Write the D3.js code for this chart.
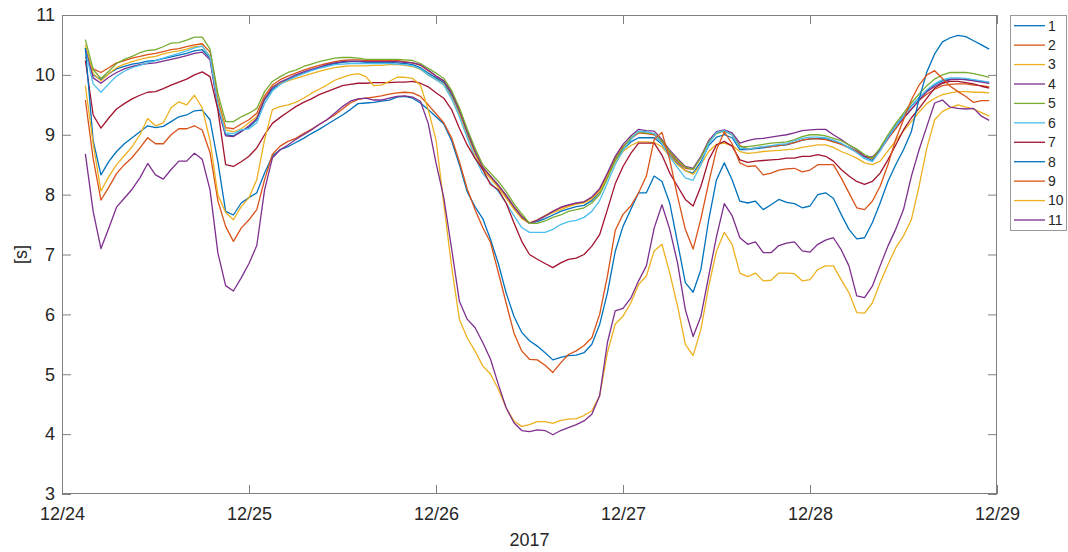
<!DOCTYPE html>
<html>
<head>
<meta charset="utf-8">
<script src="https://cdn.jsdelivr.net/npm/d3@7"></script>
<style>
html,body{margin:0;padding:0;background:#fff;}
svg{display:block;}
text{font-family:"Liberation Sans",Arial,Helvetica,sans-serif;fill:#262626;}
</style>
</head>
<body>
<svg id="chart" width="1068" height="552"></svg>
<script>
// ---- data (hourly samples starting 2017-12-24 03:00) ----
const startHour = 3;            // first sample hour on 12/24
const seriesNames = ["1","2","3","4","5","6","7","8","9","10","11"];
const seriesColors = ["#0072BD","#D95319","#EDB120","#7E2F8E","#77AC30","#4DBEEE","#A2142F","#0072BD","#D95319","#EDB120","#7E2F8E"];
const xTickLabels = ["12/24","12/25","12/26","12/27","12/28","12/29"];
const yTicks = [3,4,5,6,7,8,9,10,11];

const s1 = [10.45,10.00,9.92,10.02,10.10,10.14,10.18,10.20,10.23,10.24,
10.27,10.30,10.33,10.36,10.40,10.42,10.28,9.50,9.00,8.98,
9.06,9.13,9.25,9.58,9.76,9.86,9.92,9.98,10.03,10.08,
10.12,10.16,10.19,10.21,10.22,10.22,10.21,10.21,10.21,10.21,
10.20,10.19,10.17,10.12,10.03,9.95,9.87,9.66,9.38,9.02,
8.70,8.43,8.28,8.13,7.96,7.78,7.62,7.52,7.55,7.60,
7.66,7.72,7.76,7.80,7.82,7.90,8.04,8.30,8.56,8.75,
8.88,8.95,8.95,8.95,8.84,8.66,8.52,8.40,8.36,8.55,
8.82,8.96,9.00,8.95,8.75,8.75,8.77,8.78,8.80,8.82,
8.83,8.87,8.91,8.93,8.94,8.93,8.89,8.85,8.79,8.72,
8.63,8.57,8.75,8.96,9.15,9.32,9.48,9.62,9.74,9.84,
9.90,9.93,9.93,9.92,9.91,9.89,9.87];

const s2 = [10.30,10.10,10.04,10.12,10.20,10.24,10.28,10.31,10.34,10.36,
10.39,10.42,10.44,10.47,10.50,10.52,10.38,9.60,9.12,9.10,
9.18,9.25,9.36,9.65,9.83,9.92,9.98,10.03,10.08,10.12,
10.16,10.19,10.22,10.24,10.25,10.25,10.24,10.24,10.24,10.24,
10.24,10.22,10.20,10.16,10.07,9.98,9.90,9.70,9.40,9.05,
8.72,8.45,8.30,8.15,7.98,7.80,7.64,7.53,7.58,7.65,
7.72,7.78,7.82,7.85,7.88,7.95,8.08,8.33,8.60,8.80,
8.93,9.03,9.02,9.00,8.88,8.70,8.55,8.44,8.42,8.62,
8.90,9.04,9.07,9.00,8.82,8.76,8.78,8.80,8.80,8.82,
8.84,8.87,8.91,8.93,8.93,8.92,8.88,8.84,8.78,8.72,
8.64,8.60,8.74,8.93,9.10,9.27,9.43,9.57,9.68,9.76,
9.82,9.84,9.85,9.85,9.83,9.82,9.80];

const s3 = [10.50,10.02,9.90,10.02,10.12,10.18,10.22,10.26,10.29,10.31,
10.35,10.38,10.40,10.43,10.47,10.48,10.30,9.55,9.08,9.05,
9.10,9.20,9.30,9.60,9.80,9.86,9.90,9.94,9.98,10.02,
10.06,10.09,10.12,10.14,10.15,10.15,10.15,10.16,10.16,10.17,
10.17,10.16,10.14,10.09,10.00,9.92,9.84,9.62,9.33,8.98,
8.67,8.42,8.27,8.12,7.94,7.76,7.60,7.52,7.57,7.64,
7.70,7.75,7.80,7.84,7.86,7.93,8.05,8.30,8.55,8.72,
8.82,8.88,8.88,8.87,8.80,8.64,8.50,8.40,8.34,8.50,
8.72,8.84,8.86,8.82,8.72,8.69,8.70,8.72,8.73,8.74,
8.75,8.76,8.79,8.81,8.83,8.83,8.79,8.72,8.67,8.61,
8.53,8.50,8.56,8.73,8.90,9.06,9.22,9.38,9.52,9.61,
9.67,9.70,9.72,9.72,9.71,9.71,9.70];

const s4 = [10.42,9.95,9.86,9.96,10.04,10.10,10.14,10.17,10.19,10.20,
10.23,10.26,10.29,10.32,10.36,10.38,10.25,9.45,8.98,8.97,
9.05,9.15,9.27,9.60,9.79,9.88,9.94,10.00,10.05,10.09,
10.13,10.17,10.20,10.22,10.23,10.23,10.22,10.22,10.22,10.22,
10.22,10.21,10.20,10.17,10.08,9.98,9.90,9.70,9.42,9.06,
8.73,8.46,8.31,8.16,7.99,7.80,7.63,7.52,7.57,7.64,
7.72,7.79,7.83,7.86,7.88,7.96,8.10,8.36,8.64,8.84,
8.98,9.09,9.07,9.06,8.92,8.74,8.60,8.47,8.44,8.64,
8.90,9.05,9.08,9.03,8.86,8.90,8.93,8.94,8.96,8.98,
9.00,9.03,9.07,9.08,9.09,9.09,9.00,8.92,8.83,8.75,
8.64,8.63,8.75,8.94,9.14,9.28,9.42,9.58,9.72,9.81,
9.87,9.92,9.93,9.92,9.90,9.88,9.86];

const s5 = [10.59,10.09,9.94,10.06,10.19,10.26,10.31,10.37,10.41,10.42,
10.47,10.53,10.54,10.58,10.63,10.63,10.43,9.69,9.22,9.22,
9.30,9.36,9.44,9.72,9.89,9.97,10.04,10.08,10.14,10.18,
10.22,10.25,10.28,10.29,10.29,10.28,10.26,10.26,10.26,10.26,
10.26,10.25,10.24,10.19,10.11,10.03,9.94,9.74,9.45,9.10,
8.78,8.50,8.36,8.22,8.05,7.85,7.68,7.52,7.52,7.56,
7.62,7.66,7.72,7.75,7.78,7.86,8.00,8.27,8.58,8.78,
8.95,9.05,9.03,9.02,8.90,8.72,8.58,8.46,8.42,8.62,
8.88,9.02,9.06,9.00,8.80,8.80,8.82,8.84,8.86,8.87,
8.88,8.92,8.97,9.00,9.00,8.98,8.94,8.90,8.83,8.76,
8.67,8.61,8.78,9.00,9.19,9.36,9.53,9.68,9.82,9.93,
10.00,10.04,10.04,10.04,10.02,9.99,9.96];

const s6 = [10.40,9.85,9.71,9.85,9.98,10.06,10.12,10.16,10.20,10.24,
10.28,10.32,10.36,10.40,10.45,10.48,10.30,9.50,9.03,9.02,
9.08,9.10,9.20,9.52,9.73,9.84,9.91,9.97,10.02,10.07,
10.11,10.14,10.17,10.18,10.19,10.19,10.19,10.19,10.19,10.19,
10.18,10.17,10.15,10.10,10.00,9.92,9.83,9.60,9.30,8.95,
8.62,8.35,8.20,8.05,7.86,7.65,7.45,7.37,7.37,7.37,
7.42,7.50,7.55,7.57,7.62,7.72,7.90,8.20,8.50,8.74,
8.92,9.06,9.05,9.02,8.85,8.63,8.45,8.28,8.24,8.50,
8.85,9.04,9.07,9.00,8.78,8.76,8.78,8.80,8.82,8.84,
8.85,8.90,8.94,8.96,8.96,8.95,8.91,8.86,8.78,8.70,
8.60,8.55,8.73,8.95,9.14,9.31,9.47,9.62,9.75,9.85,
9.92,9.95,9.95,9.94,9.92,9.90,9.88];

const s7 = [10.24,9.33,9.11,9.28,9.43,9.52,9.60,9.66,9.71,9.72,
9.77,9.83,9.88,9.93,10.00,10.05,9.97,9.42,8.50,8.47,
8.55,8.64,8.78,9.00,9.19,9.29,9.38,9.47,9.54,9.60,
9.67,9.72,9.77,9.82,9.84,9.86,9.86,9.87,9.87,9.87,
9.88,9.88,9.89,9.86,9.80,9.70,9.61,9.42,9.11,8.83,
8.61,8.42,8.17,8.08,7.86,7.53,7.22,7.00,6.92,6.85,
6.78,6.86,6.92,6.94,7.00,7.14,7.33,7.75,8.18,8.47,
8.69,8.86,8.86,8.86,8.66,8.36,8.14,7.92,7.81,8.14,
8.58,8.83,8.89,8.81,8.58,8.54,8.56,8.57,8.58,8.59,
8.61,8.61,8.64,8.64,8.67,8.64,8.56,8.42,8.31,8.22,
8.17,8.22,8.36,8.58,8.83,9.08,9.28,9.44,9.61,9.78,
9.86,9.89,9.89,9.87,9.85,9.81,9.78];

const s8 = [10.45,8.90,8.33,8.55,8.72,8.85,8.95,9.05,9.15,9.12,
9.14,9.22,9.30,9.33,9.40,9.41,9.25,8.55,7.72,7.66,
7.86,7.95,8.03,8.36,8.64,8.75,8.80,8.87,8.94,9.02,
9.09,9.17,9.25,9.33,9.42,9.52,9.53,9.54,9.56,9.58,
9.63,9.64,9.61,9.53,9.42,9.30,9.18,8.90,8.50,8.05,
7.80,7.60,7.25,6.85,6.36,5.97,5.70,5.56,5.47,5.36,
5.24,5.28,5.31,5.32,5.36,5.50,5.83,6.36,7.05,7.47,
7.75,8.03,8.03,8.31,8.22,7.86,7.20,6.53,6.37,6.75,
7.58,8.25,8.53,8.25,7.89,7.86,7.89,7.75,7.83,7.92,
7.87,7.85,7.78,7.81,8.00,8.03,7.94,7.67,7.42,7.26,
7.28,7.53,7.86,8.22,8.50,8.75,9.05,9.60,10.05,10.35,
10.55,10.62,10.66,10.64,10.57,10.50,10.43];

const s9 = [9.58,8.60,7.91,8.12,8.35,8.50,8.62,8.78,8.95,8.85,
8.85,9.00,9.10,9.10,9.15,9.08,8.70,7.90,7.47,7.22,
7.44,7.58,7.75,8.25,8.67,8.81,8.89,8.94,9.02,9.09,
9.17,9.25,9.33,9.43,9.53,9.59,9.61,9.63,9.65,9.68,
9.70,9.71,9.70,9.64,9.50,9.35,9.20,8.95,8.55,8.10,
7.75,7.45,7.20,6.70,6.19,5.69,5.39,5.25,5.24,5.15,
5.03,5.19,5.33,5.39,5.48,5.61,6.00,6.64,7.40,7.67,
7.81,8.03,8.31,8.92,9.04,8.58,7.97,7.42,7.09,7.60,
8.20,8.75,9.05,8.85,8.53,8.47,8.48,8.33,8.36,8.41,
8.43,8.44,8.38,8.41,8.50,8.50,8.50,8.28,8.03,7.78,
7.75,7.89,8.14,8.50,8.92,9.25,9.58,9.83,10.00,10.07,
9.94,9.81,9.72,9.64,9.54,9.57,9.57];

const s10 = [9.82,8.85,8.06,8.30,8.50,8.65,8.80,9.00,9.27,9.15,
9.20,9.45,9.55,9.50,9.66,9.45,8.90,8.00,7.70,7.58,
7.80,7.95,8.25,8.92,9.42,9.47,9.50,9.54,9.61,9.69,
9.76,9.83,9.91,9.96,10.00,10.02,9.97,9.82,9.83,9.89,
9.96,9.96,9.94,9.83,9.42,8.92,7.85,6.80,5.92,5.61,
5.39,5.14,5.00,4.75,4.44,4.22,4.13,4.16,4.21,4.21,
4.18,4.23,4.25,4.26,4.31,4.39,4.64,5.36,5.84,5.97,
6.19,6.50,6.64,7.06,7.17,6.69,6.14,5.50,5.31,5.75,
6.47,7.06,7.37,7.17,6.69,6.63,6.69,6.56,6.57,6.69,
6.69,6.68,6.56,6.58,6.75,6.81,6.81,6.58,6.36,6.03,
6.02,6.19,6.53,6.83,7.11,7.31,7.58,8.14,8.78,9.25,
9.39,9.45,9.50,9.46,9.43,9.37,9.31];

const s11 = [8.68,7.72,7.10,7.44,7.79,7.94,8.09,8.28,8.52,8.33,
8.26,8.42,8.56,8.56,8.69,8.59,8.08,7.03,6.48,6.39,
6.61,6.85,7.15,8.08,8.61,8.75,8.83,8.92,9.00,9.08,
9.17,9.25,9.36,9.47,9.56,9.60,9.61,9.58,9.58,9.61,
9.64,9.65,9.63,9.56,9.19,8.53,7.95,7.10,6.22,5.92,
5.78,5.53,5.25,4.83,4.44,4.19,4.06,4.04,4.07,4.06,
3.99,4.06,4.11,4.16,4.22,4.33,4.64,5.53,6.06,6.10,
6.27,6.56,6.81,7.44,7.83,7.42,6.86,6.08,5.63,5.97,
6.64,7.30,7.85,7.65,7.28,7.17,7.21,7.03,7.03,7.15,
7.19,7.21,7.06,7.04,7.17,7.24,7.28,7.08,6.81,6.31,
6.28,6.47,6.81,7.14,7.42,7.75,8.30,8.75,9.14,9.53,
9.58,9.46,9.44,9.43,9.44,9.31,9.24];

const seriesValues = [s1,s2,s3,s4,s5,s6,s7,s8,s9,s10,s11];

// ---- layout ----
const svg = d3.select("#chart");
const L = 62, R = 997, T = 15, B = 494;
const axisColor = "#808080";
const t0 = new Date(2017, 11, 24, 0, 0);
const t1 = new Date(2017, 11, 29, 0, 0);
const x = d3.scaleTime().domain([t0, t1]).range([L, R]);
const y = d3.scaleLinear().domain([3, 11]).range([B, T]);
const tickDates = xTickLabels.map((d, i) => new Date(2017, 11, 24 + i));
const timeOf = i => new Date(2017, 11, 24, startHour + i, 0);

// lines
const line = d3.line().x((d, i) => x(timeOf(i))).y(d => y(d));
const g = svg.append("g");
seriesValues.forEach((vals, k) => {
  g.append("path").datum(vals)
    .attr("d", line)
    .attr("fill", "none")
    .attr("stroke", seriesColors[k])
    .attr("stroke-width", 1.3)
    .attr("stroke-linejoin", "round");
});

// axes
function styleAxis(sel){
  sel.select(".domain").remove();
  sel.selectAll(".tick line").attr("stroke", axisColor);
  sel.selectAll(".tick text").attr("fill", "#262626").style("font-size", "18px")
     .style("font-family", '"Liberation Sans",Arial,sans-serif');
}
const fmt = d => xTickLabels[tickDates.findIndex(t => +t === +d)];
svg.append("g").attr("transform", `translate(0,${B})`)
  .call(d3.axisBottom(x).tickValues(tickDates).tickFormat(fmt).tickSizeInner(-9).tickSizeOuter(0).tickPadding(13))
  .call(styleAxis);
svg.append("g").attr("transform", `translate(0,${T})`)
  .call(d3.axisTop(x).tickValues(tickDates).tickFormat("").tickSizeInner(-9).tickSizeOuter(0))
  .call(styleAxis);
svg.append("g").attr("transform", `translate(${L},0)`)
  .call(d3.axisLeft(y).tickValues(yTicks).tickFormat(d3.format("d")).tickSizeInner(-9).tickSizeOuter(0).tickPadding(7))
  .call(styleAxis);
svg.append("g").attr("transform", `translate(${R},0)`)
  .call(d3.axisRight(y).tickValues(yTicks).tickFormat("").tickSizeInner(-9).tickSizeOuter(0))
  .call(styleAxis);

// frame
svg.append("rect").attr("x", L + 0.5).attr("y", T + 0.5)
  .attr("width", R - L - 1).attr("height", B - T - 1)
  .attr("fill", "none").attr("stroke", axisColor).attr("stroke-width", 1);

// axis labels
svg.append("text").attr("x", (L + R) / 2).attr("y", 546)
  .attr("text-anchor", "middle").style("font-size", "18px").text("2017");
svg.append("text").attr("transform", `translate(27,${(T + B) / 2}) rotate(-90)`)
  .attr("text-anchor", "middle").style("font-size", "18px").text("[s]");

// legend
const lg = svg.append("g");
lg.append("rect").attr("x", 1010.5).attr("y", 15.5).attr("width", 56).attr("height", 215)
  .attr("fill", "#fff").attr("stroke", "#999").attr("stroke-width", 1);
seriesNames.forEach((name, k) => {
  const yy = 25.7 + k * 19.43;
  lg.append("line").attr("x1", 1014).attr("x2", 1045).attr("y1", yy).attr("y2", yy)
    .attr("stroke", seriesColors[k]).attr("stroke-width", 1.3);
  lg.append("text").attr("x", 1048).attr("y", yy).attr("dy", "0.35em")
    .style("font-size", "14px").text(name);
});
</script>
</body>
</html>
